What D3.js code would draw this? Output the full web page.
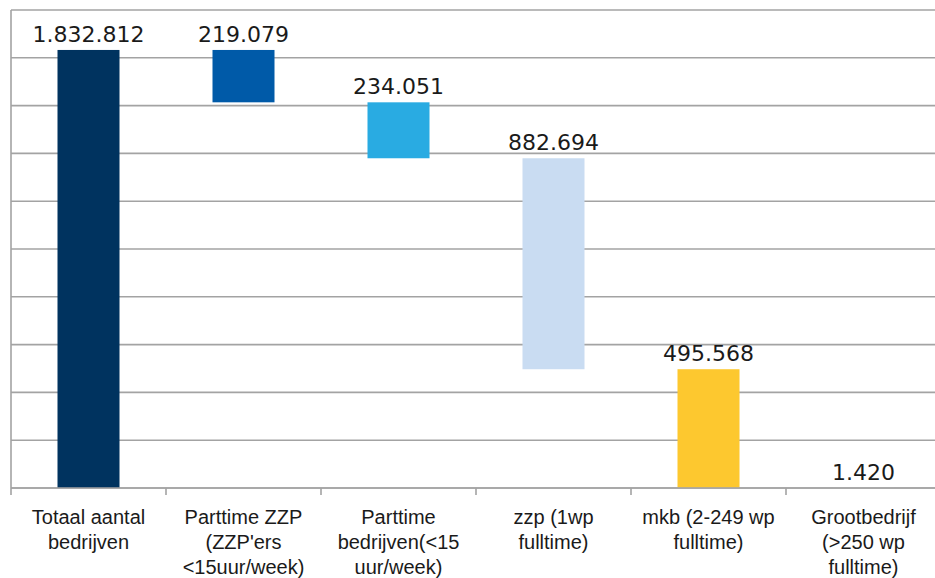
<!DOCTYPE html>
<html>
<head>
<meta charset="utf-8">
<script src="https://cdn.jsdelivr.net/npm/d3@7"></script>
<style>
  html, body { margin: 0; padding: 0; background: #fff; }
  svg { display: block; }
</style>
</head>
<body>
<svg id="chart" width="935" height="578"></svg>
<script>
  // categories, split in lines as in the original axis
  var categories = [
    ["Totaal aantal", "bedrijven"],
    ["Parttime ZZP", "(ZZP'ers", "<15uur/week)"],
    ["Parttime", "bedrijven(<15", "uur/week)"],
    ["zzp (1wp", "fulltime)"],
    ["mkb (2-249 wp", "fulltime)"],
    ["Grootbedrijf", "(>250 wp", "fulltime)"]
  ];
  var values = [1832812, 219079, 234051, 882694, 495568, 1420];
  var valueLabels = ["1.832.812", "219.079", "234.051", "882.694", "495.568", "1.420"];
  var colors = ["#00335f", "#005aa8", "#29abe2", "#c9dcf2", "#fdc82f", "#c9c9c9"];
  var yTicks = [0, 200000, 400000, 600000, 800000, 1000000, 1200000, 1400000, 1600000, 1800000, 2000000];

  var svg = d3.select("#chart"),
      plotLeft = 11, plotTop = 10, plotBottom = 488, plotRight = 941;

  var x = d3.scaleBand()
    .domain(d3.range(values.length))
    .range([plotLeft, plotRight])
    .paddingInner(0.6)
    .paddingOuter(0.3);

  var y = d3.scaleLinear()
    .domain([0, 2000000])
    .range([plotBottom, plotTop]);

  // waterfall: first bar is the total, the others step down from it
  var bars = values.map(function(v, i) {
    if (i === 0) return {i: i, y0: 0, y1: v};
    var start = values[0] - d3.sum(values.slice(1, i));
    return {i: i, y0: start - v, y1: start};
  });

  // gridlines
  svg.append("g")
    .selectAll("line")
    .data(yTicks)
    .enter().append("line")
    .attr("x1", plotLeft)
    .attr("x2", 935)
    .attr("y1", function(d) { return y(d); })
    .attr("y2", function(d) { return y(d); })
    .attr("stroke", "#a3a3a3")
    .attr("stroke-width", 1.6);

  // y axis line
  svg.append("line")
    .attr("x1", plotLeft).attr("x2", plotLeft)
    .attr("y1", y(2000000)).attr("y2", y(0))
    .attr("stroke", "#a3a3a3")
    .attr("stroke-width", 1.6);

  // bars
  svg.append("g")
    .selectAll("rect")
    .data(bars)
    .enter().append("rect")
    .attr("x", function(d) { return x(d.i); })
    .attr("width", x.bandwidth())
    .attr("y", function(d) { return y(d.y1); })
    .attr("height", function(d) { return y(d.y0) - y(d.y1); })
    .attr("fill", function(d) { return colors[d.i]; });

  // value labels
  svg.append("g")
    .selectAll("text")
    .data(bars)
    .enter().append("text")
    .attr("x", function(d) { return x(d.i) + x.bandwidth() / 2; })
    .attr("y", function(d) { return y(d.y1) - 8; })
    .attr("text-anchor", "middle")
    .attr("font-family", "DejaVu Sans, sans-serif")
    .attr("font-size", 22)
    .attr("fill", "#1a1a1a")
    .text(function(d) { return valueLabels[d.i]; });

  // x axis with ticks on band boundaries
  var step = x.step();
  var xAxis = svg.append("g");
  xAxis.append("line")
    .attr("x1", plotLeft).attr("x2", 935)
    .attr("y1", plotBottom).attr("y2", plotBottom)
    .attr("stroke", "#a3a3a3")
    .attr("stroke-width", 1.6);
  xAxis.selectAll(".tick")
    .data(d3.range(values.length))
    .enter().append("line")
    .attr("class", "tick")
    .attr("x1", function(i) { return x(i) - x.paddingOuter() * step; })
    .attr("x2", function(i) { return x(i) - x.paddingOuter() * step; })
    .attr("y1", plotBottom)
    .attr("y2", plotBottom + 7)
    .attr("stroke", "#a3a3a3")
    .attr("stroke-width", 1.6);

  // category labels
  var labels = xAxis.selectAll(".cat")
    .data(categories)
    .enter().append("text")
    .attr("class", "cat")
    .attr("text-anchor", "middle")
    .attr("font-family", "Liberation Sans, Arial, sans-serif")
    .attr("font-size", 20)
    .attr("fill", "#1a1a1a");
  labels.selectAll("tspan")
    .data(function(d, i) { return d.map(function(t) { return {t: t, i: i}; }); })
    .enter().append("tspan")
    .attr("x", function(d) { return x(d.i) + x.bandwidth() / 2; })
    .attr("y", function(d, j) { return 524 + j * 25; })
    .text(function(d) { return d.t; });
</script>
</body>
</html>
